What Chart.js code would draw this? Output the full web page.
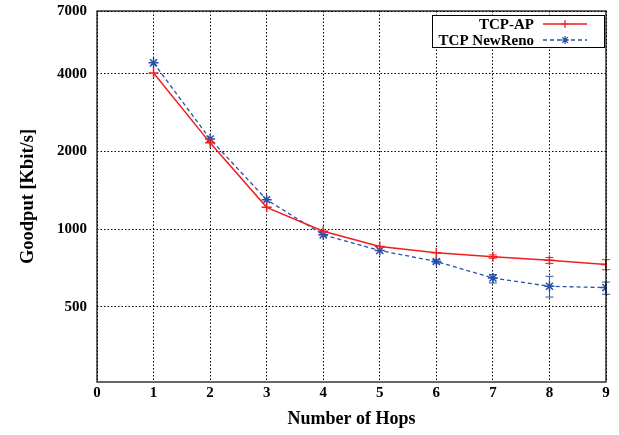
<!DOCTYPE html>
<html>
<head>
<meta charset="utf-8">
<script src="https://cdn.jsdelivr.net/npm/chart.js@4"></script>
<style>
    html, body { margin: 0; padding: 0; background: #fff; }
    #wrap { width: 619px; height: 435px; }
</style>
</head>
<body>
<div id="wrap"><canvas id="goodputChart" width="619" height="435"></canvas></div>
<script>
// Goodput vs. hop count (log y axis)
const hops = [1, 2, 3, 4, 5, 6, 7, 8, 9];
const tcpAp = [4030, 2160, 1215, 982, 857, 811, 783, 759, 730];
const tcpNewReno = [4410, 2235, 1300, 951, 827, 750, 647, 601, 594];
// error bar bounds (low / high), null where too small to show
const tcpApLow = [null, null, null, null, null, null, 772, 737, 697];
const tcpApHigh = [null, null, null, null, null, null, 795, 777, 762];
const tcpNewRenoLow = [null, null, null, null, null, 740, 619, 546, 560];
const tcpNewRenoHigh = [null, null, null, null, null, 762, 668, 657, 624];
const xTicks = [0, 1, 2, 3, 4, 5, 6, 7, 8, 9];
const yTicks = [500, 1000, 2000, 4000, 7000];

const RED = 'rgb(240, 30, 30)';
const BLUE = 'rgb(38, 80, 170)';
const FONT = '"Liberation Serif", "Times New Roman", serif';

function points(ys) {
    return hops.map(function(h, i) { return { x: h, y: ys[i] }; });
}

// error bars drawn with the chart's own scales
const errorBars = {
    id: 'errorBars',
    afterDatasetsDraw: function(chart) {
        const ctx = chart.ctx;
        const xs = chart.scales.x, ys = chart.scales.y;
        const sets = [
            { low: tcpApLow, high: tcpApHigh, color: RED },
            { low: tcpNewRenoLow, high: tcpNewRenoHigh, color: BLUE }
        ];
        ctx.save();
        ctx.lineWidth = 1;
        sets.forEach(function(s) {
            ctx.strokeStyle = s.color;
            hops.forEach(function(h, i) {
                if (s.low[i] == null) return;
                const px = xs.getPixelForValue(h);
                const y1 = ys.getPixelForValue(s.low[i]);
                const y2 = ys.getPixelForValue(s.high[i]);
                ctx.beginPath();
                ctx.moveTo(px, y1); ctx.lineTo(px, y2);
                ctx.moveTo(px - 4, y1); ctx.lineTo(px + 4, y1);
                ctx.moveTo(px - 4, y2); ctx.lineTo(px + 4, y2);
                ctx.stroke();
            });
        });
        ctx.restore();
    }
};

// solid frame around the plot plus the boxed key in the top right corner
const frameAndKey = {
    id: 'frameAndKey',
    afterDraw: function(chart) {
        const ctx = chart.ctx;
        const a = chart.chartArea;
        ctx.save();
        ctx.strokeStyle = '#000';
        ctx.lineWidth = 1.2;
        ctx.strokeRect(a.left, a.top, a.right - a.left, a.bottom - a.top);

        const boxL = a.right - 174, boxT = a.top + 4, boxW = 172, boxH = 32;
        ctx.fillStyle = '#fff';
        ctx.fillRect(boxL, boxT, boxW, boxH);
        ctx.lineWidth = 1;
        ctx.strokeRect(boxL + 0.5, boxT + 0.5, boxW, boxH);

        ctx.font = 'bold 15px ' + FONT;
        ctx.textAlign = 'right';
        ctx.textBaseline = 'middle';
        chart.data.datasets.forEach(function(ds, i) {
            const cy = boxT + 9 + i * 16;
            ctx.fillStyle = '#000';
            ctx.fillText(ds.label, boxL + 102, cy + 1);
            const x1 = boxL + 111, x2 = boxL + 155;
            ctx.strokeStyle = ds.borderColor;
            ctx.lineWidth = ds.borderWidth;
            ctx.setLineDash(ds.borderDash || []);
            ctx.beginPath();
            ctx.moveTo(x1, cy); ctx.lineTo(x2, cy);
            ctx.stroke();
            ctx.setLineDash([]);
            ctx.lineWidth = 1.2;
            const mx = (x1 + x2) / 2, r = 4;
            ctx.beginPath();
            ctx.moveTo(mx - r, cy); ctx.lineTo(mx + r, cy);
            ctx.moveTo(mx, cy - r); ctx.lineTo(mx, cy + r);
            if (ds.pointStyle === 'star') {
                ctx.moveTo(mx - r * 0.7, cy - r * 0.7); ctx.lineTo(mx + r * 0.7, cy + r * 0.7);
                ctx.moveTo(mx - r * 0.7, cy + r * 0.7); ctx.lineTo(mx + r * 0.7, cy - r * 0.7);
            }
            ctx.stroke();
        });
        ctx.restore();
    }
};

document.addEventListener('DOMContentLoaded', function() {
    const ctx = document.getElementById('goodputChart').getContext('2d');

    new Chart(ctx, {
        type: 'line',
        data: {
            datasets: [{
                label: 'TCP-AP',
                data: points(tcpAp),
                borderColor: RED,
                backgroundColor: RED,
                borderWidth: 1.5,
                pointStyle: 'cross',
                pointRadius: 5,
                pointBorderWidth: 1.5,
                pointHoverRadius: 5,
                tension: 0
            }, {
                label: 'TCP NewReno',
                data: points(tcpNewReno),
                borderColor: BLUE,
                backgroundColor: BLUE,
                borderWidth: 1.3,
                borderDash: [4, 3],
                pointStyle: 'star',
                pointRadius: 5,
                pointBorderWidth: 1.5,
                pointHoverRadius: 5,
                tension: 0
            }]
        },
        options: {
            responsive: false,
            animation: false,
            layout: { padding: { top: 11, right: 13, left: 0, bottom: 0 } },
            plugins: {
                legend: { display: false },
                tooltip: { enabled: false }
            },
            scales: {
                x: {
                    type: 'linear',
                    min: 0,
                    max: 9,
                    afterBuildTicks: function(scale) {
                        scale.ticks = xTicks.map(function(v) { return { value: v }; });
                    },
                    afterFit: function(scale) {
                        scale.height = 53;
                        scale.paddingLeft = 0;
                        scale.paddingRight = 0;
                    },
                    grid: { color: '#000', lineWidth: 1, drawTicks: false },
                    border: { display: false, dash: [1.5, 2] },
                    ticks: {
                        color: '#000',
                        padding: 2,
                        font: { family: FONT, size: 15, weight: 'bold' }
                    },
                    title: {
                        display: true,
                        text: 'Number of Hops',
                        color: '#000',
                        padding: { top: 0, bottom: 5 },
                        font: { family: FONT, size: 18, weight: 'bold' }
                    }
                },
                y: {
                    type: 'logarithmic',
                    min: 256,
                    max: 7000,
                    afterBuildTicks: function(scale) {
                        scale.ticks = yTicks.map(function(v) { return { value: v }; });
                    },
                    afterFit: function(scale) {
                        scale.width = 97;
                        scale.paddingTop = 0;
                        scale.paddingBottom = 0;
                    },
                    grid: { color: '#000', lineWidth: 1, drawTicks: false },
                    border: { display: false, dash: [1.5, 2] },
                    ticks: {
                        color: '#000',
                        padding: 10,
                        font: { family: FONT, size: 15, weight: 'bold' },
                        callback: function(v) { return String(v); }
                    },
                    title: {
                        display: true,
                        text: 'Goodput [Kbit/s]',
                        color: '#000',
                        padding: { top: 17, bottom: 0 },
                        font: { family: FONT, size: 18.5, weight: 'bold' }
                    }
                }
            }
        },
        plugins: [errorBars, frameAndKey]
    });
});
</script>
</body>
</html>
